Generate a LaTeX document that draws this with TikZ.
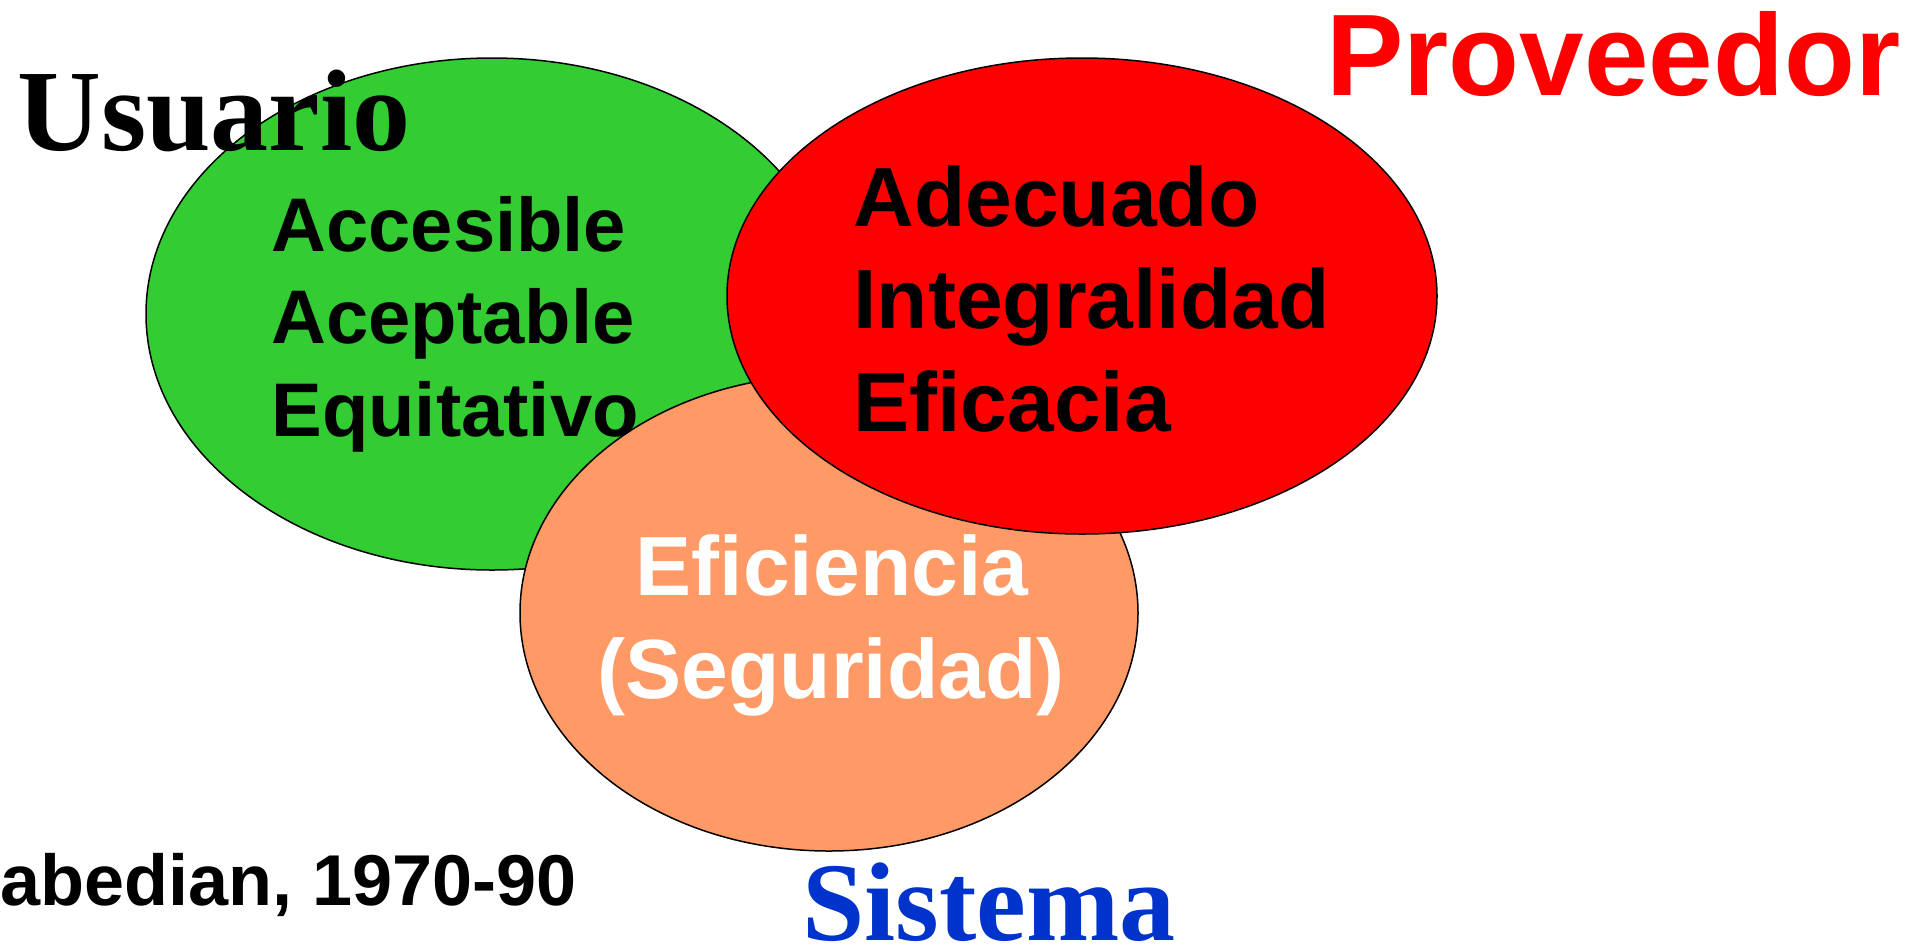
\documentclass[tikz,border=0pt]{standalone}
\usepackage{fontspec}
\setmainfont{Liberation Sans}
\newfontfamily\timesfont{Liberation Serif}
\usepackage{tikz}

\definecolor{usrgreen}{RGB}{51,204,51}
\definecolor{provred}{RGB}{255,0,0}
\definecolor{sisorange}{RGB}{255,153,102}
\definecolor{sisblue}{RGB}{0,51,204}

\tikzset{
  circ/.style={draw=black, line width=0.75},
  txt/.style={inner sep=0pt, anchor=base west},
  ctxt/.style={inner sep=0pt, anchor=base},
}

\begin{document}
\begin{tikzpicture}[x=0.5pt,y=0.5pt,yscale=-1,xscale=1]
\useasboundingbox (0,0) rectangle (1928,949);

%Ellipses
\draw [circ, fill=usrgreen] (492,314) ellipse [x radius=346, y radius=256];
\draw [circ, fill=sisorange] (829,613) ellipse [x radius=309, y radius=238];
\draw [circ, fill=provred] (1082,296) ellipse [x radius=355, y radius=238];

% Titles
\node (usuario) [txt, font=\timesfont\bfseries\fontsize{58}{70}\selectfont] at (17,150) {Usuario};
\node (proveedor) [txt, text=provred, font=\bfseries\fontsize{58}{70}\selectfont] at (1326,95) {Proveedor};
\node (sistema) [txt, text depth=0pt, text=sisblue, font=\timesfont\bfseries\fontsize{56}{68}\selectfont] at (802,940) {Sistema};

% Text Node - usuario
\node (accesible) [txt, font=\bfseries\fontsize{38}{46}\selectfont] at (271,251) {Accesible};
\node (aceptable) [txt, font=\bfseries\fontsize{38}{46}\selectfont] at (271,343) {Aceptable};
\node (equitativo) [txt, font=\bfseries\fontsize{38}{46}\selectfont] at (271,436) {Equitativo};

% Text Node - proveedor
\node (adecuado) [txt, font=\bfseries\fontsize{42}{50}\selectfont] at (853,226) {Adecuado};
\node (integralidad) [txt, font=\bfseries\fontsize{42}{50}\selectfont] at (853,328) {Integralidad};
\node (eficacia) [txt, font=\bfseries\fontsize{42}{50}\selectfont] at (853,431) {Eficacia};

% Text Node - sistema
\node (eficiencia) [ctxt, text=white, font=\bfseries\fontsize{42}{50}\selectfont] at (832,595) {Eficiencia};
\node (seguridad) [ctxt, text=white, font=\bfseries\fontsize{42}{50}\selectfont] at (831,698) {(Seguridad)};

% Text Node - fuente
\node (fuente) [txt, font=\bfseries\fontsize{36}{43}\selectfont] at (0,905) {abedian, 1970-90};

\end{tikzpicture}
\end{document}
